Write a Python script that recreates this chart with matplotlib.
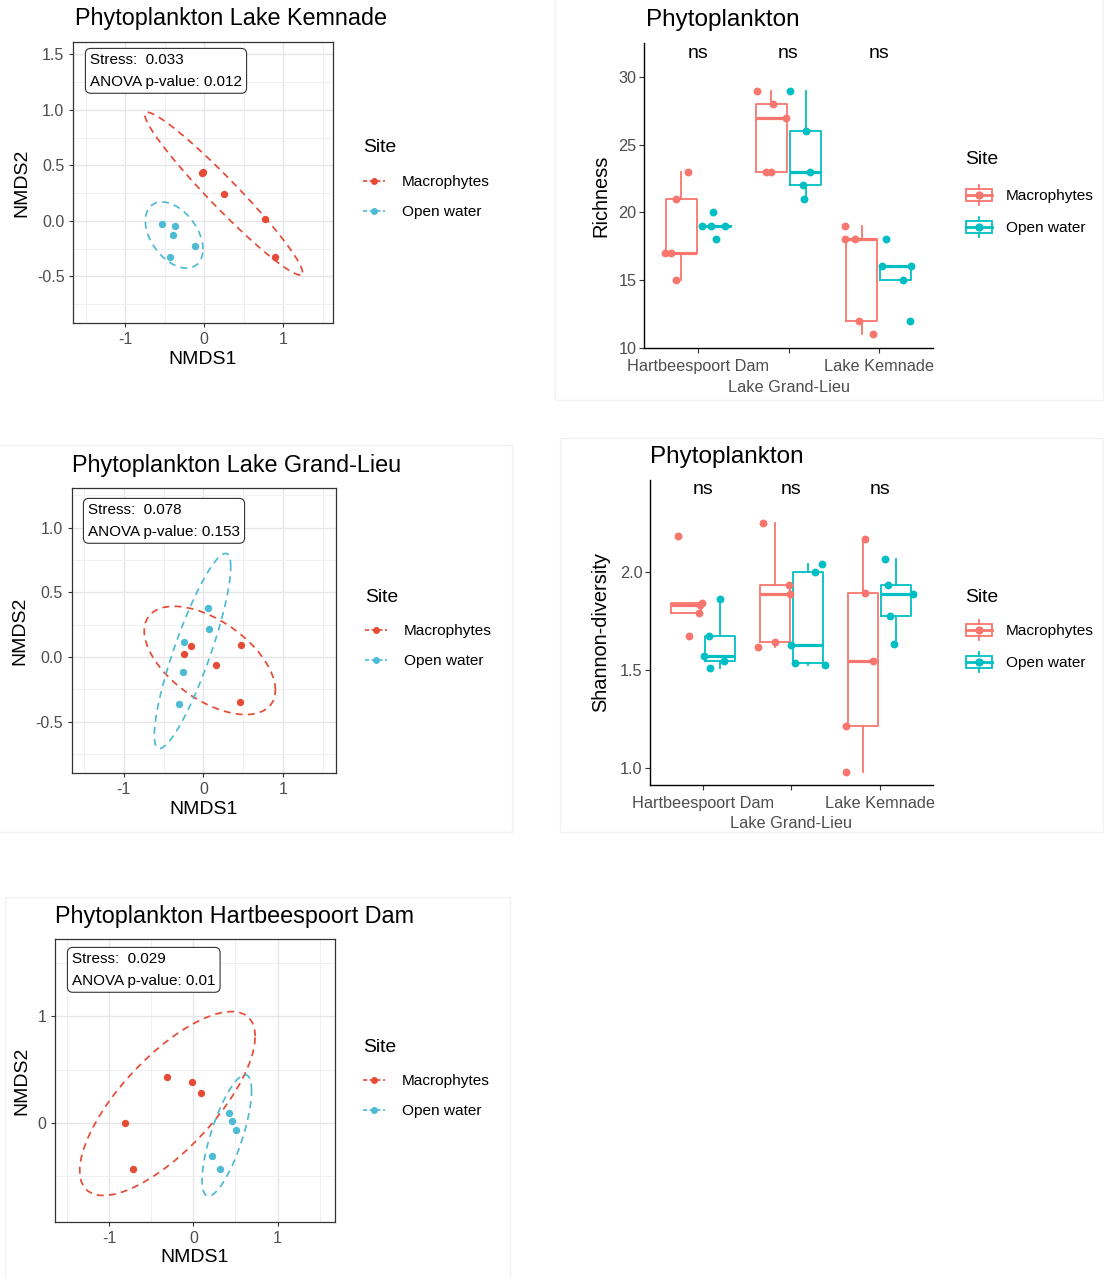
import numpy as np
import matplotlib
matplotlib.use("Agg")
import matplotlib.pyplot as plt
from matplotlib.lines import Line2D
from matplotlib.patches import Rectangle
from matplotlib.legend_handler import HandlerBase
import matplotlib.transforms as mtransforms

plt.rcParams['font.family'] = ['Liberation Sans', 'DejaVu Sans']
plt.rcParams['axes.unicode_minus'] = False

W, H = 1104, 1278

# ---------------- data ----------------
sites = ["Macrophytes", "Open water"]
lakes = ["Hartbeespoort Dam", "Lake Grand-Lieu", "Lake Kemnade"]

# NMDS scores
kem_mac_x = [-0.03, -0.02, 0.25, 0.77, 0.89]
kem_mac_y = [0.43, 0.44, 0.24, 0.015, -0.33]
kem_ow_x = [-0.535, -0.37, -0.39, -0.12, -0.43]
kem_ow_y = [-0.03, -0.045, -0.126, -0.225, -0.33]

gl_mac_x = [-0.155, -0.247, 0.159, 0.469, 0.46]
gl_mac_y = [0.088, 0.026, -0.062, 0.09, -0.35]
gl_ow_x = [0.054, 0.067, -0.247, -0.255, -0.31]
gl_ow_y = [0.38, 0.216, 0.119, -0.119, -0.36]

hb_mac_x = [-0.81, -0.71, -0.31, -0.01, 0.087]
hb_mac_y = [0.0, -0.43, 0.43, 0.386, 0.28]
hb_ow_x = [0.42, 0.46, 0.51, 0.22, 0.32]
hb_ow_y = [0.09, 0.02, -0.065, -0.31, -0.43]

stress_vals = ["0.033", "0.078", "0.029"]
anova_p = ["0.012", "0.153", "0.01"]

# Richness (per lake, per site) and jitter offsets
rich_mac = [[23, 21, 17, 17, 15], [29, 28, 27, 23, 23], [19, 18, 18, 12, 11]]
rich_mac_dx = [[-0.12, -0.25, -0.37, -0.30, -0.25], [-0.35, -0.17, -0.03, -0.25, -0.19],
               [-0.37, -0.37, -0.26, -0.22, -0.06]]
rich_ow = [[20, 19, 19, 19, 18], [29, 26, 23, 22, 21], [18, 16, 16, 15, 12]]
rich_ow_dx = [[0.16, 0.04, 0.14, 0.29, 0.20], [0.015, 0.19, 0.24, 0.16, 0.175],
              [0.086, 0.04, 0.36, 0.27, 0.35]]

# Shannon diversity
shan_mac = [[2.18, 1.84, 1.83, 1.79, 1.67], [2.25, 1.932, 1.884, 1.643, 1.617],
            [2.165, 1.889, 1.544, 1.214, 0.98]]
shan_mac_dx = [[-0.28, -0.01, -0.03, -0.05, -0.16], [-0.32, -0.03, -0.02, -0.19, -0.38],
               [-0.17, -0.17, -0.075, -0.385, -0.38]]
shan_ow = [[1.86, 1.673, 1.57, 1.546, 1.51], [2.037, 1.997, 1.626, 1.536, 1.524],
           [2.066, 1.932, 1.884, 1.774, 1.629]]
shan_ow_dx = [[0.19, 0.07, 0.01, 0.24, 0.075], [0.35, 0.27, 0.0, 0.04, 0.38],
              [0.057, 0.094, 0.377, 0.12, 0.16]]

sig_labels = ["ns", "ns", "ns"]

# ---------------- styles ----------------
NMDS_COLS = ["#E64B35", "#4DBBD5"]
BOX_COLS = ["#F8766D", "#00BFC4"]
GREY30 = "#4D4D4D"
ELLIPSE_LEVEL = 0.9

fig = plt.figure(figsize=(W / 100, H / 100), dpi=100)
fig.patch.set_facecolor("white")


def fx(x):
    return x / W


def fy(y):
    return 1 - y / H


def add_ax(l, t, r, b):
    return fig.add_axes([fx(l), fy(b), (r - l) / W, (b - t) / H])


# faint frames of the pasted panels
for (l, t, r, b) in [(555, -2, 1103, 400), (560, 438, 1103, 832), (-2, 445, 512, 832), (5, 897, 510, 1280)]:
    fig.add_artist(Rectangle((fx(l), fy(b)), (r - l) / W, (b - t) / H, transform=fig.transFigure,
                             fill=False, ec="#f1f1f1", lw=1.0, zorder=0))


def cov_trob(X, nu=5, maxit=25, tol=0.01):
    n, p = X.shape
    wt = np.ones(n)
    loc = X.mean(0)
    w = np.sqrt(wt)
    Xc = X - loc
    for _ in range(maxit):
        w0 = w
        Xc = X - loc
        s = np.sqrt(w / w.sum())[:, None] * Xc
        _, d, Vt = np.linalg.svd(s, full_matrices=False)
        wX = Xc @ Vt.T @ np.diag(1 / d)
        Q = (wX ** 2).sum(1)
        w = (wt * (nu + p)) / (nu + Q)
        loc = (w[:, None] * X).sum(0) / w.sum()
        if np.all(np.abs(w - w0) < tol):
            break
    sw = np.sqrt(w)[:, None] * Xc
    cov = sw.T @ sw / wt.sum()
    return loc, cov


def stat_ellipse(x, y, level=0.95, segments=51):
    X = np.column_stack([x, y]).astype(float)
    n = len(X)
    center, shape = cov_trob(X)
    dfd = n - 1
    fq = dfd / 2 * ((1 - level) ** (-2 / dfd) - 1)  # qf(level, 2, dfd)
    radius = np.sqrt(2 * fq)
    ang = np.linspace(0, 2 * np.pi, segments + 1)
    circ = np.column_stack([np.cos(ang), np.sin(ang)])
    L = np.linalg.cholesky(shape)
    pts = center + radius * circ @ L.T
    return pts[:, 0], pts[:, 1]


def legend_title(xy):
    fig.text(fx(xy[0]), fy(xy[1]), "Site", fontsize=13.9, ha="left", va="center")


def nmds_panel(rect, xlim, ylim, ymaj, ymin, ylabels, title, title_xy, groups, stress, pval,
               info_xy, leg_title_xy, leg_xy, xlab_y, ylab_x):
    ax = add_ax(*rect)
    ax.set_xlim(*xlim)
    ax.set_ylim(*ylim)
    ax.set_xticks([-1, 0, 1])
    ax.set_xticklabels(["-1", "0", "1"])
    ax.set_xticks([-1.5, -0.5, 0.5, 1.5], minor=True)
    ax.set_yticks(ymaj)
    ax.set_yticklabels(ylabels)
    ax.set_yticks(ymin, minor=True)
    ax.grid(True, which="major", color="#E6E6E6", lw=1.0, zorder=0)
    ax.grid(True, which="minor", color="#F0F0F0", lw=0.7, zorder=0)
    ax.set_axisbelow(True)
    for sp in ax.spines.values():
        sp.set_color("#333333")
        sp.set_linewidth(0.9)
    ax.tick_params(which="major", length=3.2, width=0.8, color="#333333", labelsize=11.5,
                   labelcolor=GREY30, pad=3)
    ax.tick_params(which="minor", length=0)
    for (gx, gy), col in zip(groups, NMDS_COLS):
        ex, ey = stat_ellipse(gx, gy, level=ELLIPSE_LEVEL)
        ax.plot(ex, ey, color=col, lw=1.25, ls=(0, (4, 3)), zorder=2)
        ax.scatter(gx, gy, s=28, color=col, zorder=3, linewidths=0)
    ax.set_xlabel("NMDS1", fontsize=14)
    ax.set_ylabel("NMDS2", fontsize=14)
    l, t, r, b = rect
    ax.xaxis.set_label_coords(0.5, -(xlab_y - b) / (b - t))
    ax.xaxis.label.set_verticalalignment("center")
    ax.yaxis.set_label_coords(-(l - ylab_x) / (r - l), 0.5)
    ax.yaxis.label.set_verticalalignment("center")
    fig.text(fx(title_xy[0]), fy(title_xy[1]), title, fontsize=16.8, ha="left", va="center")
    fig.text(fx(info_xy[0]), fy(info_xy[1]), "Stress:  " + stress + "\nANOVA p-value: " + pval,
             fontsize=11, ha="left", va="top", linespacing=1.7, color="black",
             bbox=dict(boxstyle="round,pad=0.3,rounding_size=0.35", fc="white", ec="#333333", lw=0.8),
             zorder=5)
    legend_title(leg_title_xy)
    handles = [Line2D([], [], color=c, lw=1.2, ls=(0, (2.5, 1.5)), marker="o", ms=5, mew=0)
               for c in NMDS_COLS]
    fig.legend(handles, sites, loc="upper left", bbox_to_anchor=(fx(leg_xy[0]), fy(leg_xy[1])),
               frameon=False, fontsize=11.1, alignment="left",
               borderpad=0, borderaxespad=0, handlelength=1.4, handletextpad=1.1, labelspacing=1.05)
    return ax


class HandlerBoxKey(HandlerBase):
    def create_artists(self, legend, orig_handle, xdescent, ydescent, width, height, fontsize, trans):
        col = orig_handle.get_color()
        x0, y0 = -xdescent, -ydescent
        lo, hi = 0.2, 0.8
        arts = []
        rect = Rectangle((x0, y0 + lo * height), width, (hi - lo) * height, fill=False, ec=col, lw=1.3,
                         transform=trans)
        arts.append(rect)
        arts.append(Line2D([x0, x0 + width], [y0 + 0.5 * height] * 2, color=col, lw=2.0, transform=trans))
        arts.append(Line2D([x0 + width / 2] * 2, [y0, y0 + lo * height], color=col, lw=1.3,
                           transform=trans))
        arts.append(Line2D([x0 + width / 2] * 2, [y0 + hi * height, y0 + height], color=col, lw=1.3,
                           transform=trans))
        arts.append(Line2D([x0 + width / 2], [y0 + 0.5 * height], marker="o", ms=6, mew=0, color=col,
                           transform=trans))
        return arts


def box_panel(rect, ylim, yticks, yticklabels, ylabel, vals_mac, dx_mac, vals_ow, dx_ow, title_xy,
              leg_title_xy, leg_xy, ylab_x):
    ax = add_ax(*rect)
    ax.set_xlim(0.4, 3.6)
    ax.set_ylim(*ylim)
    pos = np.arange(1, len(lakes) + 1)
    for vals, dxs, off, col in [(vals_mac, dx_mac, -0.19, BOX_COLS[0]), (vals_ow, dx_ow, 0.19, BOX_COLS[1])]:
        ax.boxplot(vals, positions=pos + off, widths=0.34, whis=1.5, showfliers=False,
                   boxprops=dict(color=col, lw=1.3), whiskerprops=dict(color=col, lw=1.3),
                   capprops=dict(lw=0), medianprops=dict(color=col, lw=2.3), manage_ticks=False,
                   zorder=2)
        for p, v, d in zip(pos, vals, dxs):
            ax.scatter(p + np.array(d), v, s=32, color=col, linewidths=0, zorder=3)
    ax.set_xticks(pos)
    ax.set_xticklabels(lakes)
    ax.set_yticks(yticks)
    ax.set_yticklabels(yticklabels)
    for s in ["top", "right"]:
        ax.spines[s].set_visible(False)
    for s in ["left", "bottom"]:
        ax.spines[s].set_color("black")
        ax.spines[s].set_linewidth(1.0)
    ax.tick_params(length=3.5, width=0.8, color="#333333", labelsize=11.7, labelcolor=GREY30, pad=2)
    ax.tick_params(axis="x", pad=4.5)
    # second row for the middle label (dodged labels)
    ax.xaxis.get_major_ticks()[1].set_pad(4.5 + 14.5)
    trans = mtransforms.blended_transform_factory(ax.transData, ax.transAxes)
    for p, lab in zip(pos, sig_labels):
        ax.text(p, 0.968, lab, transform=trans, ha="center", va="center", fontsize=14)
    ax.set_ylabel(ylabel, fontsize=14.4)
    l, t, r, b = rect
    ax.yaxis.set_label_coords(-(l - ylab_x) / (r - l), 0.5)
    ax.yaxis.label.set_verticalalignment("center")
    fig.text(fx(title_xy[0]), fy(title_xy[1]), "Phytoplankton", fontsize=17.5, ha="left", va="center")
    legend_title(leg_title_xy)
    handles = [Line2D([], [], color=c) for c in BOX_COLS]
    fig.legend(handles, sites, loc="upper left", bbox_to_anchor=(fx(leg_xy[0]), fy(leg_xy[1])),
               frameon=False, fontsize=11.1, alignment="left",
               borderpad=0, borderaxespad=0, handlelength=1.7, handleheight=1.6, handletextpad=0.9,
               labelspacing=0.78, handler_map={Line2D: HandlerBoxKey()})
    return ax


# ---- NMDS panels ----
nmds_panel((73, 42, 333, 323), (-1.66, 1.63), (-0.92, 1.61), [-0.5, 0, 0.5, 1.0, 1.5],
           [-0.75, -0.25, 0.25, 0.75, 1.25], ["-0.5", "0.0", "0.5", "1.0", "1.5"],
           "Phytoplankton Lake Kemnade", (75, 18),
           [(kem_mac_x, kem_mac_y), (kem_ow_x, kem_ow_y)], stress_vals[0], anova_p[0],
           (90, 53), (363, 148), (363, 175), 359, 22)

nmds_panel((71.7, 487.7, 336, 773.3), (-1.65, 1.66), (-0.90, 1.31), [-0.5, 0, 0.5, 1.0],
           [-0.75, -0.25, 0.25, 0.75, 1.25], ["-0.5", "0.0", "0.5", "1.0"],
           "Phytoplankton Lake Grand-Lieu", (72, 466),
           [(gl_mac_x, gl_mac_y), (gl_ow_x, gl_ow_y)], stress_vals[1], anova_p[1],
           (88, 503), (365, 597), (365, 624), 810, 20)

nmds_panel((55, 939.3, 335, 1222.3), (-1.64, 1.68), (-0.93, 1.72), [0, 1],
           [-0.5, 0.5, 1.5], ["0", "1"],
           "Phytoplankton Hartbeespoort Dam", (55, 917),
           [(hb_mac_x, hb_mac_y), (hb_ow_x, hb_ow_y)], stress_vals[2], anova_p[2],
           (72, 952), (363, 1047), (363, 1074), 1258, 22)

# ---- box panels ----
box_panel((644.3, 43.3, 932.7, 348.3), (9.95, 32.5), [10, 15, 20, 25, 30],
          ["10", "15", "20", "25", "30"], "Richness",
          rich_mac, rich_mac_dx, rich_ow, rich_ow_dx, (646, 20), (965, 160), (966, 185), 601)

box_panel((650, 480, 932.7, 785), (0.912, 2.468), [1.0, 1.5, 2.0], ["1.0", "1.5", "2.0"],
          "Shannon-diversity", shan_mac, shan_mac_dx, shan_ow, shan_ow_dx, (650, 457), (965, 597),
          (966, 620), 601)

fig.savefig("out.png", dpi=100, facecolor="white")
